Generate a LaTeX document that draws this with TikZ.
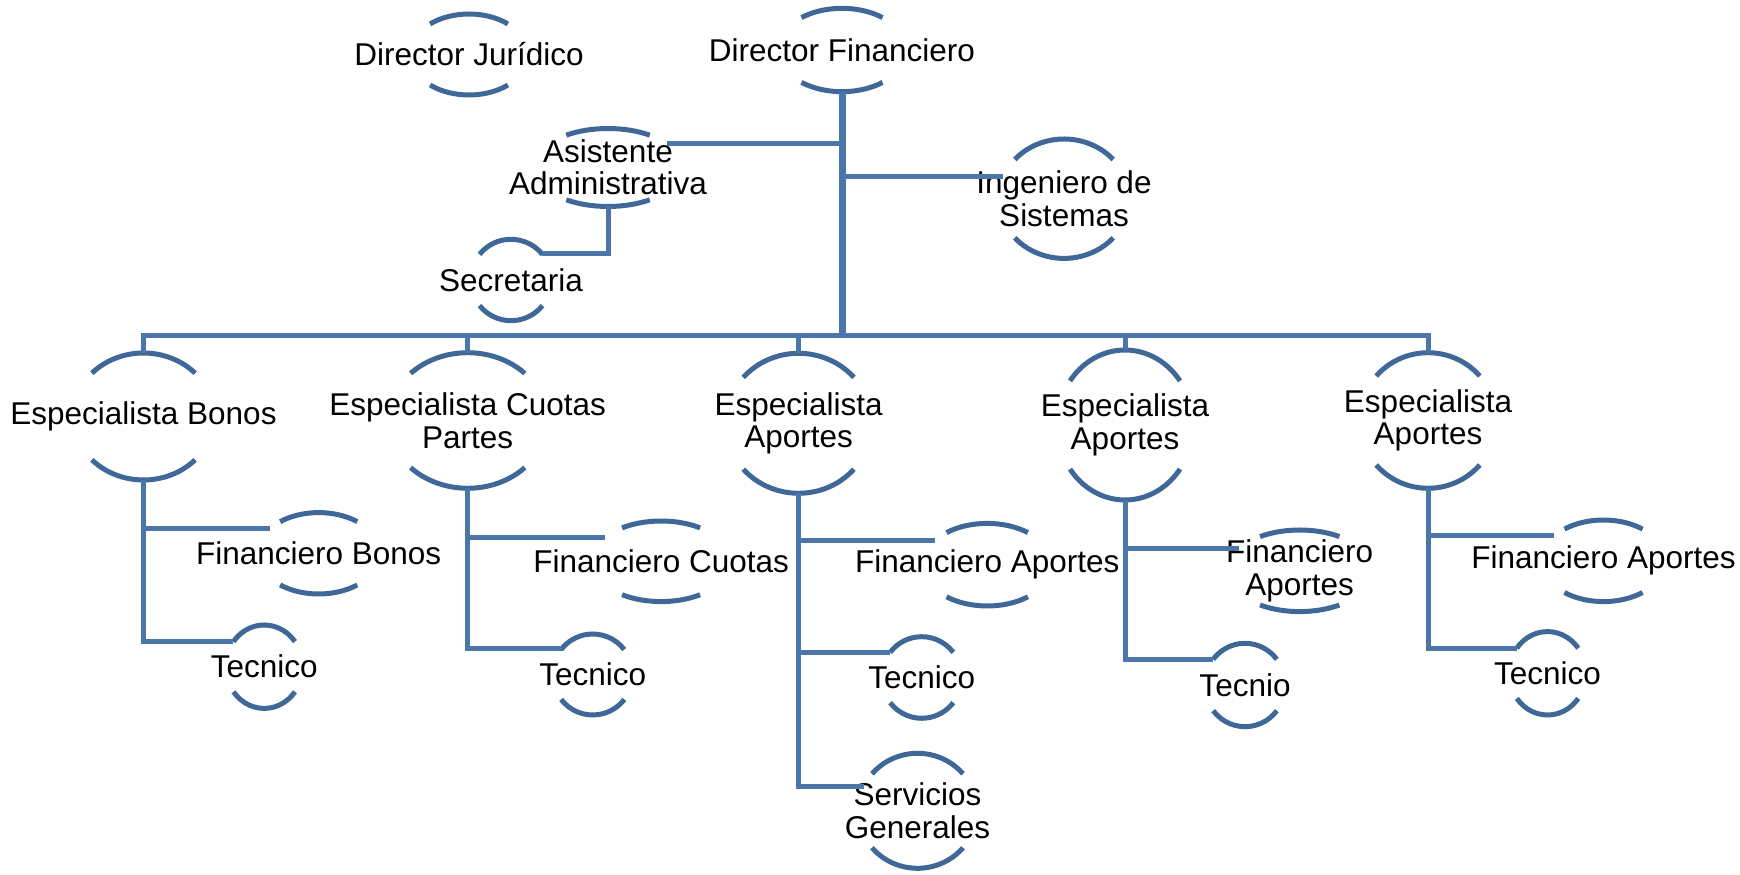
\documentclass[tikz,border=0pt]{standalone}
\usepackage{fontspec}
\setmainfont{Liberation Sans}
\usetikzlibrary{shapes.geometric,calc}

\definecolor{linkblue}{HTML}{4A76AA}
\definecolor{arcblue}{HTML}{3F6898}
\newcommand\orgfont{\fontsize{31.5}{32.5}\selectfont}
% top and bottom arc of an orb node, #2 = start angle
\newcommand\orbarcs[2]{%
	\draw[orbline] let \p0=(#1.center), \p1=(#1.east), \p2=(#1.north),
		\n1={\x1-\x0}, \n2={\y2-\y0} in
		(\p0) ++(#2:\n1 and \n2) arc[start angle=#2, end angle=180-#2, x radius=\n1, y radius=\n2]
		(\p0) ++(180+#2:\n1 and \n2) arc[start angle=180+#2, end angle=360-#2, x radius=\n1, y radius=\n2];}

\tikzset{
	orb/.style 2 args={ellipse, minimum width=2*#1, minimum height=2*#2, inner sep=0pt, outer sep=0pt},
	txt/.style={font=\orgfont, align=center, inner sep=0pt},
	link/.style={draw=linkblue, line width=5pt},
	trunk/.style={link, line width=7pt},
	orbline/.style={draw=arcblue, line width=5pt}
}

\begin{document}
\begin{tikzpicture}[x=1pt,y=1pt]
		\useasboundingbox (0,0) rectangle (1740,875);
		% direction
		\node[orb={59.3}{40.5},label={[txt]center:Director Jurídico}] (dj) at (469,820.5) {};
		\node[orb={64.4}{41.7},label={[txt]center:Director Financiero}] (df) at (842,825) {};
		\node[orb={74.7}{39},label={[txt]center:{Asistente\\Administrativa}}] (aa) at (608,707.5) {};
		\node[orb={40.5}{40.7},label={[txt]center:Secretaria}] (sec) at (511,595) {};
		\node[orb={65.2}{59.7},label={[txt]center:{Ingeniero de\\Sistemas}}] (ing) at (1064,676.3) {};
		% especialistas
		\node[orb={70.6}{63.5},label={[txt]center:Especialista Bonos}] (eb) at (143.5,458.5) {};
		\node[orb={79.4}{67.8},label={[txt]center:{Especialista Cuotas\\Partes}}] (ec) at (467.7,454.5) {};
		\node[orb={73.3}{70},label={[txt]center:{Especialista\\Aportes}}] (ea3) at (798.6,451.7) {};
		\node[orb={68}{75},label={[txt]center:{Especialista\\Aportes}}] (ea4) at (1125,450) {};
		\node[orb={68.6}{67.8},label={[txt]center:{Especialista\\Aportes}}] (ea5) at (1428,454.5) {};
		% financieros y tecnicos
		\node[orb={61.3}{40.7},label={[txt]center:Financiero Bonos}] (fb) at (318.7,321.7) {};
		\node[orb={38.5}{41.7},label={[txt]center:Tecnico}] (tb) at (264.2,208.3) {};
		\node[orb={69.8}{40.3},label={[txt]center:Financiero Cuotas}] (fc) at (661.1,313.7) {};
		\node[orb={40.1}{40.5},label={[txt]center:Tecnico}] (tc2) at (592.7,200.5) {};
		\node[orb={64.7}{41.3},label={[txt]center:Financiero Aportes}] (fa3) at (987.2,310.3) {};
		\node[orb={40.1}{40.8},label={[txt]center:Tecnico}] (tc3) at (921.7,197.5) {};
		\node[orb={59.4}{57.5},label={[txt]center:{Servicios\\Generales}}] (sg) at (917.5,64.2) {};
		\node[orb={72.8}{40.8},label={[txt]center:{Financiero\\Aportes}}] (fa4) at (1299.7,304.2) {};
		\node[orb={40.4}{41.7},label={[txt]center:Tecnio}] (tc4) at (1245,190) {};
		\node[orb={62.1}{40.8},label={[txt]center:Financiero Aportes}] (fa5) at (1603.5,314.2) {};
		\node[orb={38.5}{41.7},label={[txt]center:Tecnico}] (tc5) at (1547.5,201.7) {};
		\foreach \who/\ang in {dj/49,df/51,aa/56,sec/39,ing/41,eb/43,ec/44,ea3/41,ea4/36,ea5/41,
			fb/51,tb/37,fc/56,tc2/38,fa3/51,tc3/38,sg/40,fa4/57,tc4/38,fa5/51,tc5/37}
			\orbarcs{\who}{\ang};
		% connectors
		\coordinate (bus) at (842,539);
		\draw[trunk] (df.south) -- (bus);
		\draw[link] (aa.22) -- (aa.22 -| bus);
		\draw[link] (ing.160) -- (ing.160 -| bus);
		\draw[link] (aa.south) |- (sec.40);
		\draw[link] (eb.north) |- (bus) -| (ea5.north);
		\draw[link] (ec.north) -- (ec.north |- bus);
		\draw[link] (ea3.north) -- (ea3.north |- bus);
		\draw[link] (ea4.north) -- (ea4.north |- bus);
		\draw[link] (eb.south) |- (fb.153);
		\draw[link] (eb.south) |- (tb.141);
		\draw[link] (ec.south) |- (fc.157);
		\draw[link] (ec.south) |- (tc2.140);
		\draw[link] (ea3.south) |- (fa3.155);
		\draw[link] (ea3.south) |- (tc3.141);
		\draw[link] (ea3.south) |- (sg.156);
		\draw[link] (ea4.south) |- (fa4.160);
		\draw[link] (ea4.south) |- (tc4.142);
		\draw[link] (ea5.south) |- (fa5.153);
		\draw[link] (ea5.south) |- (tc5.141);
	\end{tikzpicture}
\end{document}
